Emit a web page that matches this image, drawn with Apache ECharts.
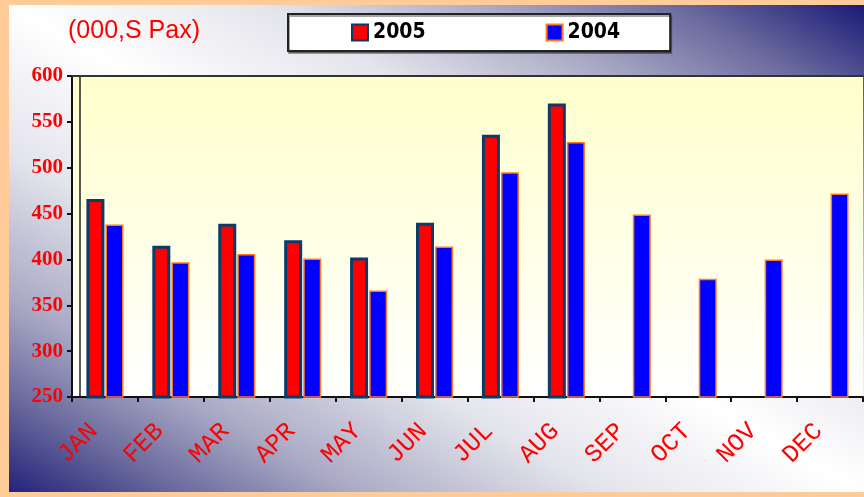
<!DOCTYPE html>
<html>
<head>
<meta charset="utf-8">
<title>Pax 2005 / 2004</title>
<script src="https://cdn.jsdelivr.net/npm/echarts/dist/echarts.min.js"></script>
<style>
	html, body {
		margin: 0;
		padding: 0;
		width: 864px;
		height: 497px;
		background: #FFCC99;
		overflow: hidden;
	}
	#chart {
		position: absolute;
		left: 9px;
		top: 5px;
		width: 855px;
		height: 487px;
		/* diagonal band: navy corners top-right / bottom-left, white along the other diagonal */
		background: linear-gradient(to top right,
			#23237A 0%, #6A6A9E 10%, #A9A9C5 20%, #E4E4EC 35%, #FFFFFF 50%,
			#E4E4EC 65%, #A9A9C5 78%, #6A6A9E 89%, #1A1A78 100%);
	}
</style>
</head>
<body>
<div id="chart"></div>
<script>
var months = ['JAN', 'FEB', 'MAR', 'APR', 'MAY', 'JUN', 'JUL', 'AUG', 'SEP', 'OCT', 'NOV', 'DEC'];
var pax2005 = [466, 415, 439, 421, 402, 440, 536, 570, null, null, null, null];
var pax2004 = [438, 397, 406, 401, 366, 414, 495, 528, 449, 379, 400, 472];
var yTicks = [250, 300, 350, 400, 450, 500, 550, 600];

var narrow = "'Liberation Sans Narrow', 'DejaVu Sans Condensed', sans-serif";
var mono = "'Liberation Mono', monospace";

var myChart = echarts.init(document.getElementById('chart'));

var option = {
	backgroundColor: 'transparent',
	animation: false,
	title: {
		text: '(000,S Pax)',
		left: 54,
		top: 9,
		textStyle: {
			color: '#FF0000',
			fontFamily: 'Liberation Sans, sans-serif',
			fontWeight: 'normal',
			fontSize: 25
		}
	},
	legend: {
		data: ['2005', '2004'],
		icon: 'rect',
		left: 279,
		top: 9,
		padding: [8, 50, 8, 63],
		itemGap: 120,
		itemWidth: 16,
		itemHeight: 16,
		backgroundColor: '#FFFFFF',
		borderColor: '#222222',
		borderWidth: 2,
		shadowColor: 'rgba(0,0,0,0.35)',
		shadowOffsetX: 1,
		shadowOffsetY: 2,
		textStyle: {
			color: '#000000',
			fontFamily: narrow,
			fontWeight: 'bold',
			fontSize: 21
		}
	},
	grid: {
		show: true,
		left: 63,
		right: 1,
		top: 71,
		bottom: 95,
		borderWidth: 0,
		backgroundColor: new echarts.graphic.LinearGradient(0, 0, 0, 1, [
			{offset: 0, color: '#FFFFCC'},
			{offset: 1, color: '#FFFFFF'}
		])
	},
	xAxis: [{
		type: 'category',
		data: months,
		axisLine: {lineStyle: {color: '#111111', width: 2}},
		axisTick: {show: true, length: 5, inside: false, lineStyle: {color: '#111111', width: 2}},
		axisLabel: {
			rotate: 45,
			margin: 19,
			padding: [0, 16, 0, 0],
			color: '#FF0000',
			fontFamily: mono,
			fontSize: 25
		}
	}, {
		// dark top edge of the plot area
		type: 'category',
		position: 'top',
		data: months,
		axisLine: {lineStyle: {color: '#333333', width: 2}},
		axisTick: {show: false},
		axisLabel: {show: false}
	}],
	yAxis: [{
		type: 'value',
		min: yTicks[0],
		max: yTicks[yTicks.length - 1],
		interval: 50,
		splitLine: {show: false},
		axisLine: {show: true, lineStyle: {color: '#111111', width: 2}},
		axisTick: {show: true, length: 5, lineStyle: {color: '#111111', width: 2}},
		axisLabel: {
			margin: 9,
			color: '#FF0000',
			fontFamily: 'Liberation Serif, serif',
			fontWeight: 'bold',
			fontSize: 21
		}
	}, {
		// inner wall line next to the value axis
		type: 'value',
		position: 'left',
		offset: -8,
		min: yTicks[0],
		max: yTicks[yTicks.length - 1],
		interval: 50,
		splitLine: {show: false},
		axisLine: {show: true, lineStyle: {color: '#222222', width: 1.5}},
		axisTick: {show: false},
		axisLabel: {show: false}
	}],
	series: [
		{
			name: '2005',
			type: 'bar',
			data: pax2005,
			barWidth: 18,
			barGap: '6%',
			itemStyle: {
				color: '#FF0000',
				borderColor: '#0B3B69',
				borderWidth: 3
			}
		},
		{
			name: '2004',
			type: 'bar',
			data: pax2004,
			barWidth: 18,
			itemStyle: {
				color: '#0000FF',
				borderColor: '#FF7A1A',
				borderWidth: 1.5
			}
		}
	]
};

myChart.setOption(option);
</script>
</body>
</html>
